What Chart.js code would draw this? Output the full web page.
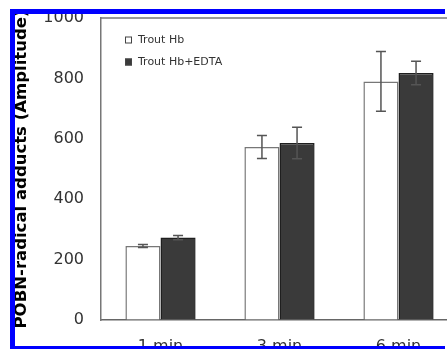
<!DOCTYPE html>
<html lang="en">
<head>
<meta charset="utf-8">
<title>POBN-radical adducts</title>
<script src="https://cdn.jsdelivr.net/npm/chart.js@4.4.0/dist/chart.umd.min.js"></script>
<style>
    html, body { margin: 0; padding: 0; background: #fff; overflow: hidden; width: 447px; height: 349px; }
    canvas { display: block; }
</style>
</head>
<body>
<canvas id="adductsChart" width="470" height="349"></canvas>

<script type="text/javascript">

    const categories = ["1 min", "3 min", "6 min"];
    const troutHb = [245, 573, 790];
    const troutHbErr = [5, 38, 99];
    const troutHbEdta = [273, 586, 818];
    const troutHbEdtaErr = [7, 52, 39];
    const yTicks = [0, 200, 400, 600, 800, 1000];

    const errors = [troutHbErr, troutHbEdtaErr];
    const font = "'DejaVu Sans', Verdana, sans-serif";

    // error bars, top edge of the frame and the legend inside the plot
    const extras = {
        id: "extras",
        afterDatasetsDraw(chart) {
            const ctx = chart.ctx;
            const y = chart.scales.y;
            ctx.save();
            ctx.strokeStyle = "#555";
            ctx.lineWidth = 1.5;
            chart.data.datasets.forEach((ds, di) => {
                chart.getDatasetMeta(di).data.forEach((bar, i) => {
                    const v = ds.data[i];
                    const e = errors[di][i];
                    const top = y.getPixelForValue(v + e);
                    const bot = y.getPixelForValue(v - e);
                    ctx.beginPath();
                    ctx.moveTo(bar.x, top);
                    ctx.lineTo(bar.x, bot);
                    ctx.moveTo(bar.x - 5, top);
                    ctx.lineTo(bar.x + 5, top);
                    ctx.moveTo(bar.x - 5, bot);
                    ctx.lineTo(bar.x + 5, bot);
                    ctx.stroke();
                });
            });
            const a = chart.chartArea;
            ctx.strokeStyle = "#777";
            ctx.beginPath();
            ctx.moveTo(a.left, a.top);
            ctx.lineTo(a.right, a.top);
            ctx.stroke();

            ctx.font = "11px " + font;
            ctx.textBaseline = "middle";
            chart.data.datasets.forEach((ds, di) => {
                const ly = 40 + di * 22;
                ctx.fillStyle = ds.backgroundColor;
                ctx.fillRect(125, ly - 3.5, 7, 7);
                ctx.strokeStyle = "#444";
                ctx.lineWidth = 1;
                ctx.strokeRect(125.5, ly - 3, 6, 6);
                ctx.fillStyle = "#333";
                ctx.fillText(ds.label, 138, ly);
            });
            ctx.restore();
        },
        // the blue crop frame of the figure
        afterDraw(chart) {
            const ctx = chart.ctx;
            ctx.save();
            ctx.fillStyle = "#fff";
            ctx.fillRect(0, 0, 10, 349);
            ctx.fillRect(0, 0, 470, 9);
            ctx.fillRect(445, 0, 25, 14);
            ctx.fillStyle = "#0000ff";
            ctx.fillRect(10, 9, 5, 340);
            ctx.fillRect(10, 9, 435, 5);
            ctx.fillRect(10, 346, 435, 3);
            ctx.restore();
        }
    };

    new Chart("adductsChart", {
        type: 'bar',
        data: {
            labels: categories,
            datasets: [
                {
                    label: "Trout Hb",
                    data: troutHb,
                    backgroundColor: "#ffffff",
                    borderColor: "#777777",
                    borderWidth: 1.5
                },
                {
                    label: "Trout Hb+EDTA",
                    data: troutHbEdta,
                    backgroundColor: "#3a3a3a",
                    borderColor: "#1f1f1f",
                    borderWidth: 1.5
                }
            ]
        },
        options: {
            responsive: false,
            animation: false,
            devicePixelRatio: 1,
            layout: {padding: {top: 18, right: 12, bottom: 0, left: 0}},
            plugins: {legend: {display: false}, tooltip: {enabled: false}},
            datasets: {bar: {categoryPercentage: 0.59, barPercentage: 1.0}},
            scales: {
                x: {
                    grid: {display: false, drawTicks: false},
                    border: {display: true, color: "#666", width: 1.5},
                    ticks: {color: "#333", padding: 17, font: {family: font, size: 16}},
                    afterFit: s => { s.height = 29; }
                },
                y: {
                    min: 0,
                    max: 1000,
                    afterBuildTicks: s => { s.ticks = yTicks.map(v => ({value: v})); },
                    grid: {
                        display: true,
                        drawOnChartArea: false,
                        color: "rgba(0,0,0,0)",
                        tickColor: "rgba(0,0,0,0)",
                        tickLength: 15
                    },
                    border: {display: true, color: "#777", width: 1.5},
                    ticks: {
                        color: "#333",
                        padding: 2,
                        font: {family: font, size: 16},
                        callback: v => String(v)
                    },
                    title: {
                        display: true,
                        text: "POBN-radical adducts (Amplitude)",
                        color: "#000",
                        padding: {top: 12, bottom: 0},
                        font: {family: font, size: 16.5, weight: "bold"}
                    },
                    afterFit: s => { s.width = 101; }
                }
            }
        },
        plugins: [extras]
    });

</script>
</body>
</html>
